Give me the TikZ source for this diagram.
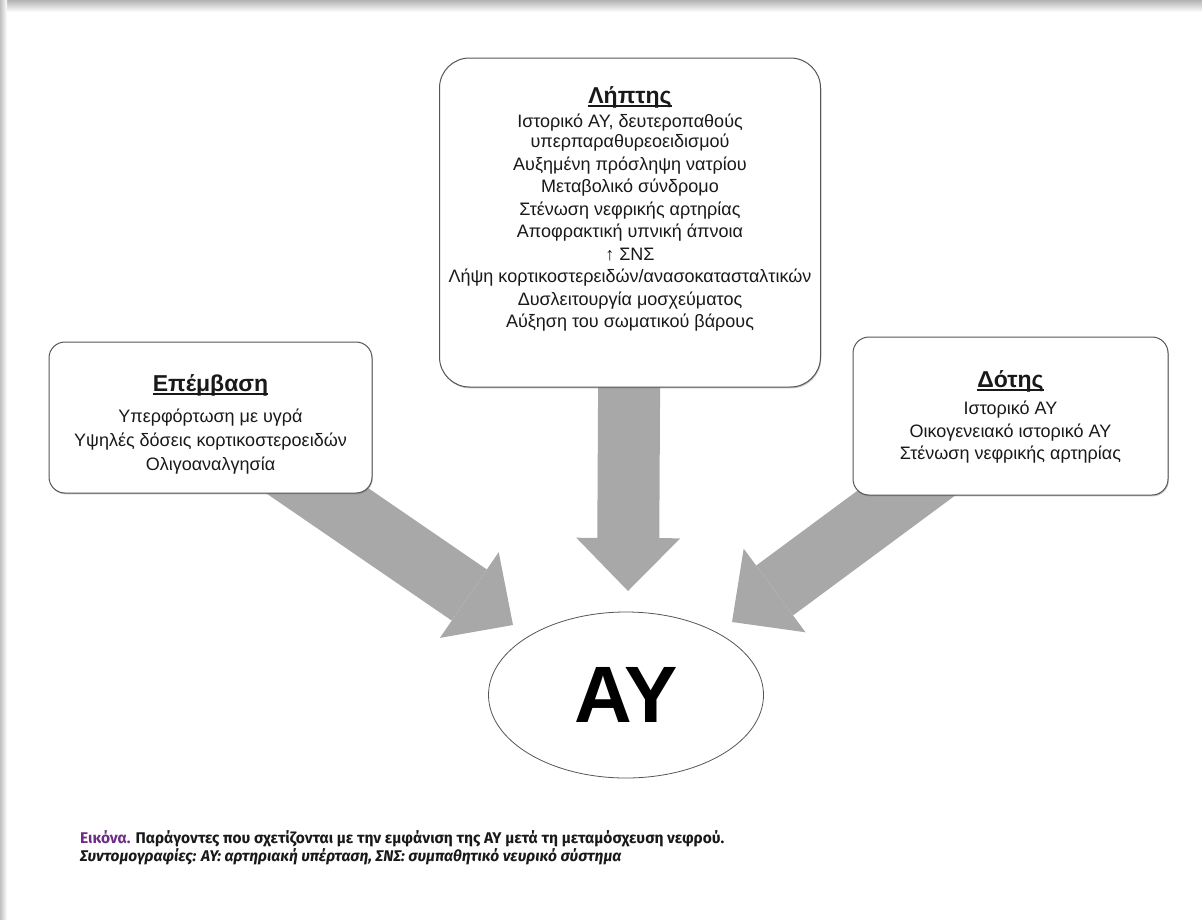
\documentclass[tikz,border=0pt]{standalone}
\usepackage{fontspec}
\setmainfont{Liberation Sans}
\newfontfamily\capfont{Fira Sans}
\usetikzlibrary{arrows.meta,shapes.geometric,backgrounds,positioning,shadows}
\definecolor{arrowGrey}{RGB}{168,168,168}
\definecolor{frameGrey}{RGB}{85,85,85}
\definecolor{inkBlack}{RGB}{25,25,25}
\definecolor{captionPurple}{RGB}{110,44,135}
\newsavebox{\titlebox}
\newcommand{\boxtitle}[1]{\sbox{\titlebox}{#1}\rlap{\rule[-3pt]{\wd\titlebox}{1.8pt}}\usebox{\titlebox}}

\begin{document}
\begin{tikzpicture}[x=1pt,y=-1pt,
    panel/.style={draw=frameGrey, line width=1pt, fill=white, rounded corners=#1,
        drop shadow={shadow xshift=0.8pt, shadow yshift=-1.4pt, opacity=0.45}},
    paneltext/.style={anchor=north, align=center, inner sep=0pt, text=inkBlack,
        font=\fontsize{18}{20}\selectfont},
    bigarrow/.style={draw=arrowGrey, line width=62pt,
        -{Triangle[width=104pt,length=53pt,line width=0pt]}}]
    \useasboundingbox (0,0) rectangle (1202,919);
    % scanned page edges
    \fill[top color=black!30, bottom color=white] (0,0) rectangle (1202,12);
    \fill[left color=black!25, right color=white] (0,0) rectangle (7,919);

    % factor boxes
    \node[panel=30pt, minimum width=381pt, minimum height=329pt] (lipt) at (630,222.5) {};
    \node[panel=16pt, minimum width=323pt, minimum height=151pt] (epemv) at (210.5,417.5) {};
    \node[panel=16pt, minimum width=315pt, minimum height=158pt] (dotis) at (1010.5,416) {};
    \node[draw=frameGrey, line width=0.8pt, ellipse, minimum width=275pt, minimum height=166pt,
        inner sep=0pt, text=black, font=\fontsize{80}{80}\selectfont\bfseries] (ay) at (626,695) {ΑΥ};

    \node[paneltext] (liptText) at ([yshift=-29pt]lipt.north) {%
        {\fontsize{23}{23}\selectfont\bfseries\boxtitle{Λήπτης}}\\[4pt]
        Ιστορικό ΑΥ, δευτεροπαθούς\\ υπερπαραθυρεοειδισμού\\[2.5pt]
        Αυξημένη πρόσληψη νατρίου\\[2.5pt]
        Μεταβολικό σύνδρομο\\[2.5pt]
        Στένωση νεφρικής αρτηρίας\\[2.5pt]
        Αποφρακτική υπνική άπνοια\\[2.5pt]
        ↑ ΣΝΣ\\[2.5pt]
        Λήψη κορτικοστερειδών/ανασοκατασταλτικών\\[2.5pt]
        Δυσλειτουργία μοσχεύματος\\[2.5pt]
        Αύξηση του σωματικού βάρους};
    \node[paneltext] (epemvText) at ([yshift=-33pt]epemv.north) {%
        {\fontsize{23}{23}\selectfont\bfseries\boxtitle{Επέμβαση}}\\[11pt]
        Υπερφόρτωση με υγρά\\[4pt]
        Υψηλές δόσεις κορτικοστεροειδών\\[4pt]
        Ολιγοαναλγησία};
    \node[paneltext] (dotisText) at ([yshift=-34pt]dotis.north) {%
        {\fontsize{23}{23}\selectfont\bfseries\boxtitle{Δότης}}\\[7pt]
        Ιστορικό ΑΥ\\[2.5pt]
        Οικογενειακό ιστορικό ΑΥ\\[2.5pt]
        Στένωση νεφρικής αρτηρίας};

    % arrow tips
    \coordinate (tipL) at (513,625);
    \coordinate (tipC) at (628,591);
    \coordinate (tipR) at (732,622);
    \begin{pgfonlayer}{background}
        \draw[bigarrow] (epemv.center) -- (tipL);
        \draw[bigarrow] (lipt.center) -- (tipC);
        \draw[bigarrow] (dotis.center) -- (tipR);
    \end{pgfonlayer}

    % caption
    \node[anchor=base west, inner sep=0pt, text=inkBlack, font=\capfont\fontsize{15.5}{17}\selectfont\bfseries]
        (capMain) at (80,843) {\textcolor{captionPurple}{Εικόνα.} Παράγοντες που σχετίζονται με την εμφάνιση της ΑΥ μετά τη μεταμόσχευση νεφρού.};
    \node[anchor=base west, inner sep=0pt, text=inkBlack, font=\capfont\fontsize{15.5}{17}\selectfont\bfseries\itshape]
        (capAbbr) at (80,861) {Συντομογραφίες: ΑΥ: αρτηριακή υπέρταση, ΣΝΣ: συμπαθητικό νευρικό σύστημα};
\end{tikzpicture}
\end{document}
